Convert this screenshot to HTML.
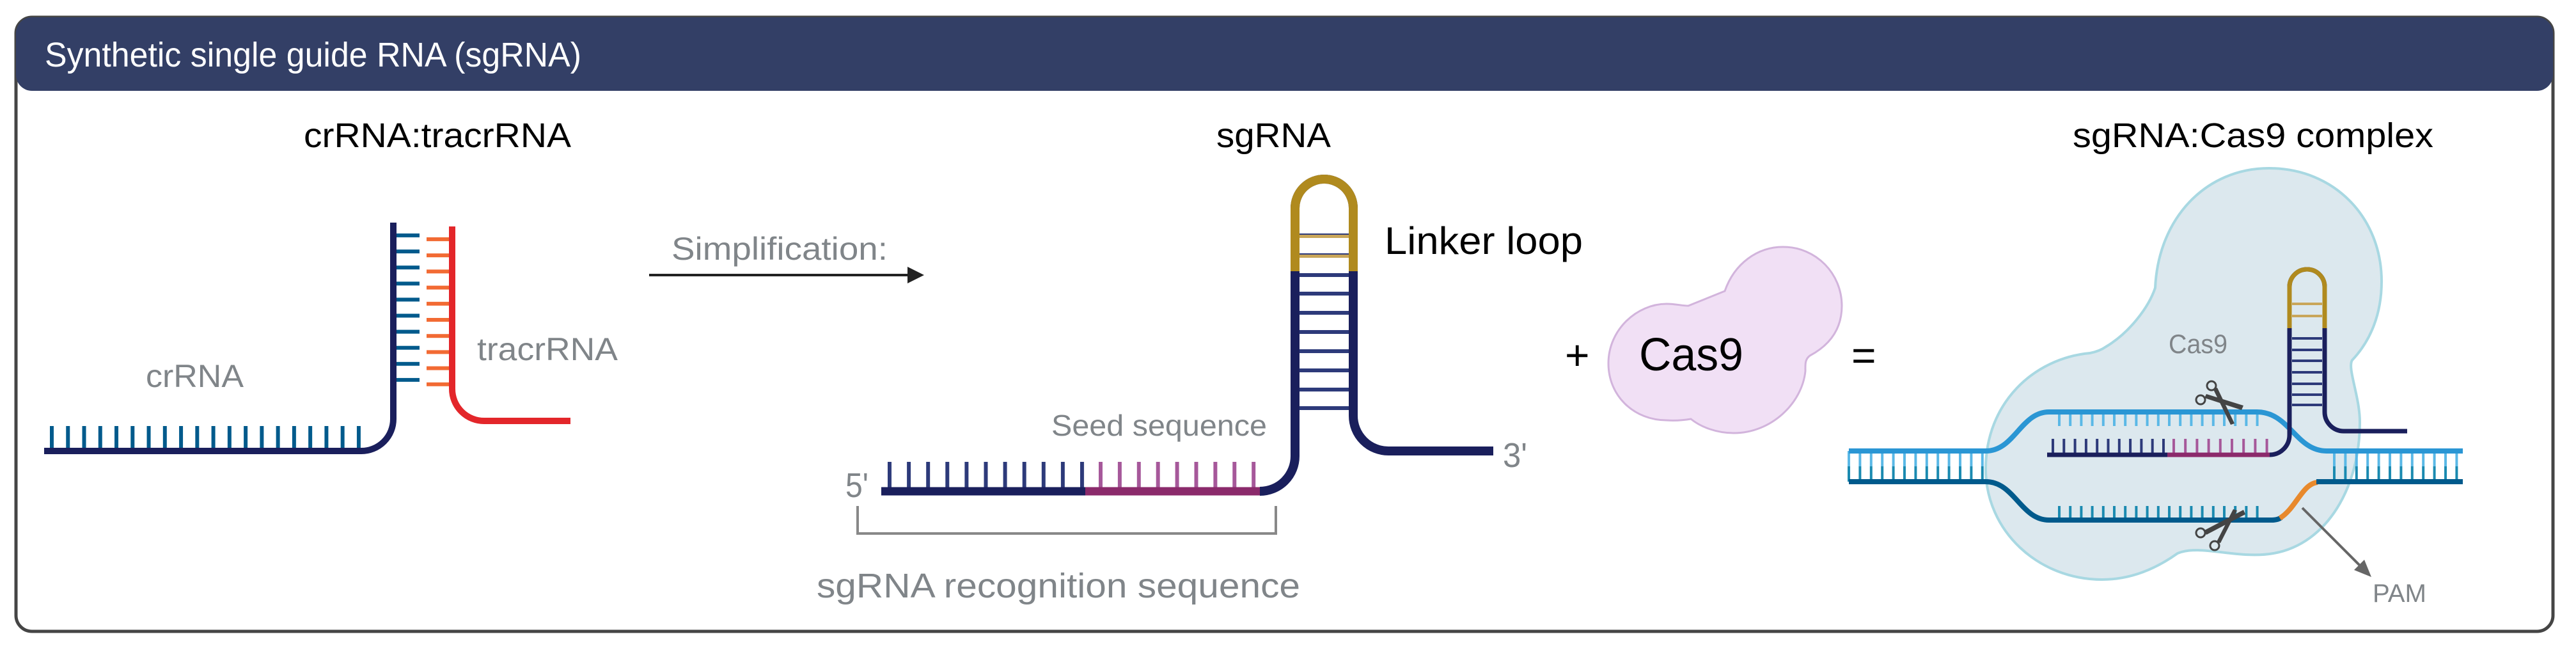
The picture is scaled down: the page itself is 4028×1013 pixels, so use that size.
<!DOCTYPE html>
<html><head><meta charset="utf-8"><style>
html,body{margin:0;padding:0;background:#fff;}
svg{display:block;}
text{font-family:"Liberation Sans",Arial,sans-serif;}
</style></head><body>
<svg width="4028" height="1013" viewBox="0 0 4028 1013" xmlns="http://www.w3.org/2000/svg">
<defs>
<pattern id="pH" x="78" y="0" width="25.26" height="1000" patternUnits="userSpaceOnUse"><rect x="0" y="0" width="6" height="1000" fill="#005a8c"/></pattern>
<pattern id="pV" x="0" y="365" width="1000" height="25.1" patternUnits="userSpaceOnUse"><rect x="0" y="0" width="1000" height="6" fill="#005a8c"/></pattern>
<pattern id="pO" x="0" y="371" width="1000" height="25.2" patternUnits="userSpaceOnUse"><rect x="0" y="0" width="1000" height="6" fill="#f26a33"/></pattern>
<pattern id="pN" x="1388" y="0" width="30.1" height="1000" patternUnits="userSpaceOnUse"><rect x="0" y="0" width="6" height="1000" fill="#2d3a7a"/></pattern>
<pattern id="pP" x="1718" y="0" width="29.9" height="1000" patternUnits="userSpaceOnUse"><rect x="0" y="0" width="6" height="1000" fill="#a6589a"/></pattern>
<pattern id="dL" x="2889" y="0" width="17.4" height="1000" patternUnits="userSpaceOnUse"><rect x="0" y="0" width="4" height="729" fill="#5ab8e6"/><rect x="0" y="729" width="4" height="271" fill="#1a8ab0"/></pattern>
<pattern id="dR" x="3648" y="0" width="17.4" height="1000" patternUnits="userSpaceOnUse"><rect x="0" y="0" width="4" height="729" fill="#5ab8e6"/><rect x="0" y="729" width="4" height="271" fill="#1a8ab0"/></pattern>
<pattern id="dT" x="3218" y="0" width="17.2" height="1000" patternUnits="userSpaceOnUse"><rect x="0" y="0" width="4" height="1000" fill="#5ab8e6"/></pattern>
<pattern id="dB" x="3218" y="0" width="17.2" height="1000" patternUnits="userSpaceOnUse"><rect x="0" y="0" width="4" height="1000" fill="#1a8ab0"/></pattern>
<pattern id="sN" x="3208" y="0" width="17.3" height="1000" patternUnits="userSpaceOnUse"><rect x="0" y="0" width="4" height="1000" fill="#2d3a7a"/></pattern>
<pattern id="sP" x="3397" y="0" width="18.2" height="1000" patternUnits="userSpaceOnUse"><rect x="0" y="0" width="4" height="1000" fill="#a6589a"/></pattern>
</defs>

<!-- frame -->
<rect x="25" y="27" width="3967" height="960" rx="25" fill="#fff" stroke="#454545" stroke-width="5"/>
<path d="M25 52 A25 25 0 0 1 50 27 H3967 A25 25 0 0 1 3992 52 V117 A25 25 0 0 1 3967 142 H50 A25 25 0 0 1 25 117 Z" fill="#333f66"/>
<text x="70" y="104" font-size="54" fill="#fff" textLength="839" lengthAdjust="spacingAndGlyphs">Synthetic single guide RNA (sgRNA)</text>

<!-- crRNA:tracrRNA -->
<text x="475" y="230" font-size="54" fill="#000" textLength="418" lengthAdjust="spacingAndGlyphs">crRNA:tracrRNA</text>
<rect x="78" y="666" width="489" height="39" fill="url(#pH)"/>
<rect x="619" y="365" width="37" height="232" fill="url(#pV)"/>
<rect x="667" y="371" width="36" height="233" fill="url(#pO)"/>
<path d="M69 705 H565 A50 50 0 0 0 615 655 V348" fill="none" stroke="#1a1f5c" stroke-width="10"/>
<path d="M707 354 V608 A50 50 0 0 0 757 658 H892" fill="none" stroke="#e3262a" stroke-width="10"/>
<text x="228" y="605" font-size="50" fill="#808589" textLength="153" lengthAdjust="spacingAndGlyphs">crRNA</text>
<text x="746" y="563" font-size="50" fill="#808589" textLength="220" lengthAdjust="spacingAndGlyphs">tracrRNA</text>

<!-- arrow -->
<text x="1050" y="406" font-size="50" fill="#808589" textLength="338" lengthAdjust="spacingAndGlyphs">Simplification:</text>
<line x1="1015" y1="430" x2="1425" y2="430" stroke="#222" stroke-width="4"/>
<polygon points="1445,430 1419,417 1419,443" fill="#222"/>

<!-- sgRNA -->
<text x="1902" y="230" font-size="54" fill="#000" textLength="179" lengthAdjust="spacingAndGlyphs">sgRNA</text>
<rect x="1388" y="722" width="308" height="42" fill="url(#pN)"/>
<rect x="1718" y="722" width="246" height="42" fill="url(#pP)"/>
<g fill="#2d3a7a">
<rect x="2032" y="427" width="77" height="6"/><rect x="2032" y="456" width="77" height="6"/>
<rect x="2032" y="486" width="77" height="6"/><rect x="2032" y="516" width="77" height="6"/>
<rect x="2032" y="546" width="77" height="6"/><rect x="2032" y="576" width="77" height="6"/>
<rect x="2032" y="606" width="77" height="6"/><rect x="2032" y="635" width="77" height="6"/>
</g>
<rect x="2032" y="366" width="77" height="6" fill="#c9a65a"/>
<rect x="2032" y="397" width="77" height="6" fill="#c9a65a"/>
<line x1="2032" y1="366" x2="2109" y2="366" stroke="#2d3a7a" stroke-width="2"/>
<line x1="2032" y1="397" x2="2109" y2="397" stroke="#2d3a7a" stroke-width="2"/>
<path d="M1378 768 H1697" stroke="#1a1f5c" stroke-width="13" fill="none"/>
<path d="M1697 768 H1971" stroke="#8b2a6b" stroke-width="13" fill="none"/>
<path d="M1970 768 A55 55 0 0 0 2025 713 V325.5 A45.5 45.5 0 0 1 2116 325.5 V650 A55 55 0 0 0 2171 705 H2335" fill="none" stroke="#1a1f5c" stroke-width="14"/>
<path d="M2025 424 V325.5 A45.5 45.5 0 0 1 2116 325.5 V424" fill="none" stroke="#b08a1e" stroke-width="14"/>
<text x="2165" y="397" font-size="60" fill="#000" textLength="310" lengthAdjust="spacingAndGlyphs">Linker loop</text>
<text x="2350" y="730" font-size="54" fill="#808589" textLength="38" lengthAdjust="spacingAndGlyphs">3'</text>
<text x="1322" y="777" font-size="54" fill="#808589" textLength="36" lengthAdjust="spacingAndGlyphs">5'</text>
<text x="1644" y="681" font-size="46" fill="#808589" textLength="337" lengthAdjust="spacingAndGlyphs">Seed sequence</text>
<path d="M1341 791 V834 H1995 V791" fill="none" stroke="#888" stroke-width="4"/>
<text x="1277" y="934" font-size="54" fill="#808589" textLength="756" lengthAdjust="spacingAndGlyphs">sgRNA recognition sequence</text>

<!-- + Cas9 = -->
<text x="2447" y="578" font-size="66" fill="#000">+</text>
<path d="M2515 568 C2515 515 2560 475 2606 475 C2620 475 2630 478 2640 478 C2660 470 2680 462 2697 455 C2712 412 2748 386 2788 386 C2840 386 2880 428 2880 478 C2880 515 2860 540 2830 556 C2822 562 2823 570 2823 580 C2818 630 2770 677 2711 677 C2685 677 2660 668 2644 655 C2632 657 2620 658 2606 657 C2556 657 2515 620 2515 568 Z" fill="#f1e0f5" stroke="#d2b4dc" stroke-width="3"/>
<text x="2563" y="579" font-size="72" fill="#000" textLength="163" lengthAdjust="spacingAndGlyphs">Cas9</text>
<text x="2895" y="578" font-size="66" fill="#000">=</text>

<!-- complex -->
<text x="3241" y="230" font-size="54" fill="#000" textLength="564" lengthAdjust="spacingAndGlyphs">sgRNA:Cas9 complex</text>
<path d="M3293 542 C3330 520 3360 480 3370 450 C3375 340 3450 263 3548 263 C3650 263 3724 340 3724 440 C3724 500 3700 540 3678 563 C3670 575 3690 620 3690 660 C3690 760 3640 850 3555 865 C3500 875 3440 850 3405 865 C3370 890 3330 906 3287 906 C3187 906 3105 830 3105 733 C3105 630 3180 560 3268 552 C3278 550 3286 547 3293 542 Z" fill="#dce8ee" stroke="#a8d8e2" stroke-width="4"/>
<text x="3391" y="552" font-size="42" fill="#808589" textLength="92" lengthAdjust="spacingAndGlyphs">Cas9</text>

<rect x="2889" y="705" width="213" height="48" fill="url(#dL)"/>
<rect x="3648" y="705" width="205" height="48" fill="url(#dR)"/>
<rect x="3218" y="644" width="315" height="22" fill="url(#dT)"/>
<rect x="3218" y="791" width="315" height="22" fill="url(#dB)"/>
<path d="M2891 705 H3105 C3150 705 3160 644 3204 644 H3529 C3580 644 3590 705 3638 705 H3851" fill="none" stroke="#2a96d4" stroke-width="8"/>
<path d="M2891 753 H3105 C3150 753 3160 813 3204 813 H3552 C3558 813 3563 812 3567 809" fill="none" stroke="#005a8c" stroke-width="8"/>
<path d="M3565 810 C3590 795 3600 756 3624 754" fill="none" stroke="#e8892c" stroke-width="8"/>
<path d="M3622 753 H3851" fill="none" stroke="#005a8c" stroke-width="8"/>

<rect x="3208" y="686" width="180" height="25" fill="url(#sN)"/>
<rect x="3397" y="686" width="152" height="25" fill="url(#sP)"/>
<g fill="#2d3a7a">
<rect x="3584" y="527" width="47" height="4"/><rect x="3584" y="545" width="47" height="4"/>
<rect x="3584" y="562" width="47" height="4"/><rect x="3584" y="580" width="47" height="4"/>
<rect x="3584" y="598" width="47" height="4"/><rect x="3584" y="615" width="47" height="4"/>
<rect x="3584" y="631" width="47" height="4"/>
</g>
<rect x="3584" y="473" width="47" height="4" fill="#c9a65a"/>
<rect x="3584" y="492" width="47" height="4" fill="#c9a65a"/>
<path d="M3201 711 H3389" stroke="#1a1f5c" stroke-width="7" fill="none"/>
<path d="M3389 711 H3550" stroke="#8b2a6b" stroke-width="7" fill="none"/>
<path d="M3549 711 A31 31 0 0 0 3580 680 V448.5 A27.5 27.5 0 0 1 3635 448.5 V644 A30 30 0 0 0 3665 674 H3764" fill="none" stroke="#1a1f5c" stroke-width="7"/>
<path d="M3580 513 V448.5 A27.5 27.5 0 0 1 3635 448.5 V513" fill="none" stroke="#b08a1e" stroke-width="7"/>

<!-- scissors -->
<g stroke="#444" stroke-width="3" fill="none">
<circle cx="3458" cy="603" r="7"/><circle cx="3441" cy="625" r="7"/>
<circle cx="3441" cy="833" r="7"/><circle cx="3463" cy="853" r="7"/>
</g>
<g fill="#444">
<polygon points="3461,609 3467,606 3494,662 3488,664"/>
<polygon points="3447,622 3450,616 3508,634 3505,641"/>
<polygon points="3447,829 3450,836 3511,804 3508,797"/>
<polygon points="3466,847 3472,849 3498,798 3492,796"/>
</g>

<!-- PAM -->
<line x1="3600" y1="794" x2="3693" y2="887" stroke="#666" stroke-width="4"/>
<polygon points="3708,902 3681,891 3697,875" fill="#666"/>
<text x="3710" y="941" font-size="40" fill="#808589" textLength="84" lengthAdjust="spacingAndGlyphs">PAM</text>
</svg>
</body></html>
